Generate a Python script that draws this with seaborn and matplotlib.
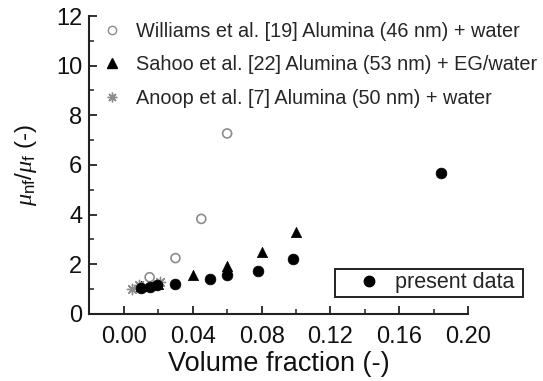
import matplotlib
matplotlib.use("Agg")
import matplotlib.pyplot as plt
import seaborn as sns
import pandas as pd
from matplotlib.ticker import MultipleLocator
from matplotlib.lines import Line2D

sns.set_theme(style="white")
plt.rcParams['font.family'] = ['Liberation Sans', 'DejaVu Sans']
plt.rcParams['mathtext.fontset'] = 'custom'
plt.rcParams['mathtext.it'] = 'Liberation Serif:italic'
plt.rcParams['mathtext.rm'] = 'Liberation Sans'

# Data
williams_x = [0.015, 0.030, 0.045, 0.060]
williams_y = [1.48, 2.25, 3.83, 7.27]
sahoo_x = [0.010, 0.020, 0.040, 0.060, 0.080, 0.100]
sahoo_y = [1.12, 1.22, 1.57, 1.95, 2.48, 3.30]
anoop_x = [0.005, 0.009, 0.021]
anoop_y = [1.00, 1.17, 1.30]
present_x = [0.010, 0.015, 0.019, 0.030, 0.050, 0.060, 0.078, 0.098, 0.184]
present_y = [1.06, 1.10, 1.15, 1.20, 1.42, 1.55, 1.75, 2.22, 5.68]

labels = ["Williams et al. [19] Alumina (46 nm) + water",
          "Sahoo et al. [22] Alumina (53 nm) + EG/water",
          "Anoop et al. [7] Alumina (50 nm) + water",
          "present data"]

fig = plt.figure(figsize=(5.43, 3.81), dpi=100)
ax = fig.add_axes([0.1645, 0.1759, 0.8624 - 0.1645, 0.958 - 0.1759])

gray = "#8c8c8c"
sns.scatterplot(x=williams_x, y=williams_y, ax=ax, marker="o", s=42,
                facecolor="none", edgecolor=gray, linewidth=1.2, zorder=3)
sns.scatterplot(x=sahoo_x, y=sahoo_y, ax=ax, marker="^", s=55,
                color="black", edgecolor="black", linewidth=0.5, zorder=3)
sns.scatterplot(x=anoop_x, y=anoop_y, ax=ax, marker=(8, 2, 0), s=55,
                color=gray, edgecolor=gray, linewidth=1.0, zorder=3)
sns.scatterplot(x=present_x, y=present_y, ax=ax, marker="o", s=60,
                color="black", edgecolor="black", linewidth=0.5, zorder=4)

ax.set_xlim(-0.02, 0.20)
ax.set_ylim(0, 12)
ax.xaxis.set_major_locator(MultipleLocator(0.04))
ax.xaxis.set_minor_locator(MultipleLocator(0.02))
ax.yaxis.set_major_locator(MultipleLocator(2))
ax.yaxis.set_minor_locator(MultipleLocator(1))
ax.set_xticks([0.0, 0.04, 0.08, 0.12, 0.16, 0.20])
ax.set_xticklabels(["0.00", "0.04", "0.08", "0.12", "0.16", "0.20"])
ax.set_yticks([0, 2, 4, 6, 8, 10, 12])
ax.set_yticklabels(["0", "2", "4", "6", "8", "10", "12"])

for s in ["top", "right"]:
    ax.spines[s].set_visible(False)
for s in ["left", "bottom"]:
    ax.spines[s].set_linewidth(1.5)
    ax.spines[s].set_color("#222222")

ax.tick_params(which="major", direction="in", length=6, width=1.3,
               color="#222222", labelsize=17, labelcolor="#111111",
               left=True, bottom=True)
ax.tick_params(which="minor", direction="in", length=3.5, width=1.1,
               color="#222222", left=True, bottom=True)
ax.tick_params(axis="x", which="major", pad=9)
ax.tick_params(axis="y", which="major", pad=5)

ax.set_xlabel("Volume fraction (-)", fontsize=19.5, color="#111111", labelpad=2)
ax.set_ylabel(r"$\mu_{\mathrm{nf}}/\mu_{\mathrm{f}}$ (-)", fontsize=17.5,
              color="#111111", labelpad=12)

h1 = Line2D([], [], marker="o", linestyle="none", markersize=6,
            markerfacecolor="none", markeredgecolor=gray, markeredgewidth=1.0)
h2 = Line2D([], [], marker="^", linestyle="none", markersize=6.5,
            color="black")
h3 = Line2D([], [], marker=(8, 2, 0), linestyle="none", markersize=7,
            color=gray, markeredgewidth=1.0)
leg1 = ax.legend([h1, h2, h3], labels[:3], loc="upper left",
                 bbox_to_anchor=(0.012, 1.008), frameon=False, fontsize=14.3,
                 handlelength=1.0, handletextpad=0.7, labelspacing=0.74,
                 borderaxespad=0)
ax.add_artist(leg1)

h4 = Line2D([], [], marker="o", linestyle="none", markersize=7.5,
            color="black")
leg2 = ax.legend([h4], [labels[3] + " "], loc="lower right",
                 bbox_to_anchor=(1.145, 0.058), frameon=True, fontsize=15.5,
                 fancybox=False, edgecolor="#222222", framealpha=1,
                 handlelength=2.8, handletextpad=-0.2, borderpad=0.15,
                 borderaxespad=0)
leg2.get_frame().set_linewidth(1.4)

fig.savefig("out.png", dpi=100)
